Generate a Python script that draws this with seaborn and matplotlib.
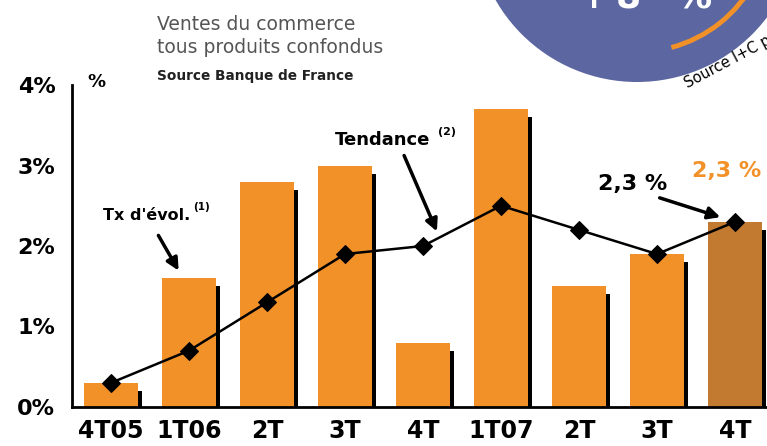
import matplotlib
matplotlib.use("Agg")
import matplotlib.pyplot as plt
import seaborn as sns
import pandas as pd
import numpy as np
from matplotlib.patches import Circle, Arc

# donnees
quarters = ["4T05", "1T06", "2T", "3T", "4T", "1T07", "2T", "3T", "4T"]
ventes = [0.3, 1.6, 2.8, 3.0, 0.8, 3.7, 1.5, 1.9, 2.3]
tendance = [0.3, 0.7, 1.3, 1.9, 2.0, 2.5, 2.2, 1.9, 2.3]
yticks = [0, 1, 2, 3, 4]
ytick_labels = ["0%", "1%", "2%", "3%", "4%"]

ORANGE = "#F39129"
BROWN = "#C17A30"
BLUE = "#5C67A1"

sns.set_style("white")
plt.rcParams['font.family'] = ['DejaVu Sans']
plt.rcParams['text.color'] = 'black'

df = pd.DataFrame({'pos': range(len(quarters)), 'ventes': ventes, 'tendance': tendance})
bar_colors = [ORANGE] * (len(quarters) - 1) + [BROWN]

fig = plt.figure(figsize=(7.67, 4.46), dpi=100)
ax = fig.add_axes([72 / 767, 39 / 446, 702 / 767, 322 / 446])

# ombre noire a droite des barres
ax.bar(df['pos'] + 0.375, df['ventes'] - 0.1, width=0.05, color='black', linewidth=0, zorder=1)
sns.barplot(data=df, x='pos', y='ventes', hue='pos', palette=bar_colors, width=0.7,
            saturation=1, linewidth=0, legend=False, ax=ax, zorder=2)
sns.lineplot(data=df, x='pos', y='tendance', color='black', marker='D', markersize=9,
             markeredgecolor='black', linewidth=1.8, ax=ax, zorder=5)

ax.set_xlim(-0.5, len(quarters) - 0.5)
ax.set_ylim(0, 4)
ax.set_xlabel(''); ax.set_ylabel('')
ax.set_yticks(yticks)
ax.set_yticklabels(ytick_labels, fontsize=16, fontweight='bold')
ax.set_xticks(df['pos'])
ax.set_xticklabels(quarters, fontsize=17, fontweight='bold')
ax.set_xticks(np.arange(-0.5, len(quarters), 1), minor=True)
ax.tick_params(axis='x', which='major', length=0, pad=9, labelcolor='black')
ax.tick_params(axis='x', which='minor', length=8, width=2, direction='out', color='black')
ax.tick_params(axis='y', length=7, width=1.8, direction='out', color='black', pad=5,
               labelcolor='black')
for s in ['top', 'right']:
    ax.spines[s].set_visible(False)
ax.spines['left'].set_linewidth(2)
ax.spines['bottom'].set_linewidth(2)
ax.spines['left'].set_color('black')
ax.spines['bottom'].set_color('black')
ax.patch.set_visible(False)

# calque en pixels pour le texte et les fleches
ov = fig.add_axes([0, 0, 1, 1], zorder=10)
ov.set_xlim(0, 767); ov.set_ylim(446, 0)
ov.axis('off'); ov.patch.set_visible(False)

ov.add_patch(Circle((637, -81), 163, color=BLUE, lw=0))
ov.add_patch(Arc((637, -81), 266, 266, theta1=28, theta2=75, color=ORANGE, lw=3.5))
for txt, xpos in [("+", 578), ("8", 616), ("%", 676)]:
    ov.text(xpos, 8, txt, color='white', fontsize=26, fontweight='bold', va='baseline', ha='left')
ov.text(688, 88, "Source I+C panel", fontsize=10.5, color='black', rotation=28,
        rotation_mode='anchor', va='baseline', ha='left')

ov.text(157, 30, "Ventes du commerce", fontsize=13.5, color='#555555', va='baseline')
ov.text(157, 53, "tous produits confondus", fontsize=13.5, color='#555555', va='baseline')
ov.text(157, 80, "Source Banque de France", fontsize=9.8, fontweight='bold', color='#222222',
        va='baseline')
ov.text(87, 87, "%", fontsize=13, fontweight='bold', va='baseline')

ov.text(103, 220, "Tx d'évol.", fontsize=11.5, fontweight='bold', va='baseline')
ov.text(193, 210, "(1)", fontsize=7.5, fontweight='bold', va='baseline')
ov.annotate('', xy=(180, 273), xytext=(157, 233),
            arrowprops=dict(arrowstyle='-|>', color='black', lw=2.5, mutation_scale=18))

ov.text(335, 145, "Tendance", fontsize=13, fontweight='bold', va='baseline')
ov.text(438, 135, "(2)", fontsize=8, fontweight='bold', va='baseline')
ov.annotate('', xy=(438, 234), xytext=(403, 153),
            arrowprops=dict(arrowstyle='-|>', color='black', lw=2.5, mutation_scale=18))

ov.text(598, 190, "2,3 %", fontsize=16, fontweight='bold', va='baseline')
ov.text(692, 177, "2,3 %", fontsize=16, fontweight='bold', color=ORANGE, va='baseline')
ov.annotate('', xy=(723, 218), xytext=(657, 197),
            arrowprops=dict(arrowstyle='-|>', color='black', lw=2.5, mutation_scale=18))

fig.savefig("out.png", dpi=100)
